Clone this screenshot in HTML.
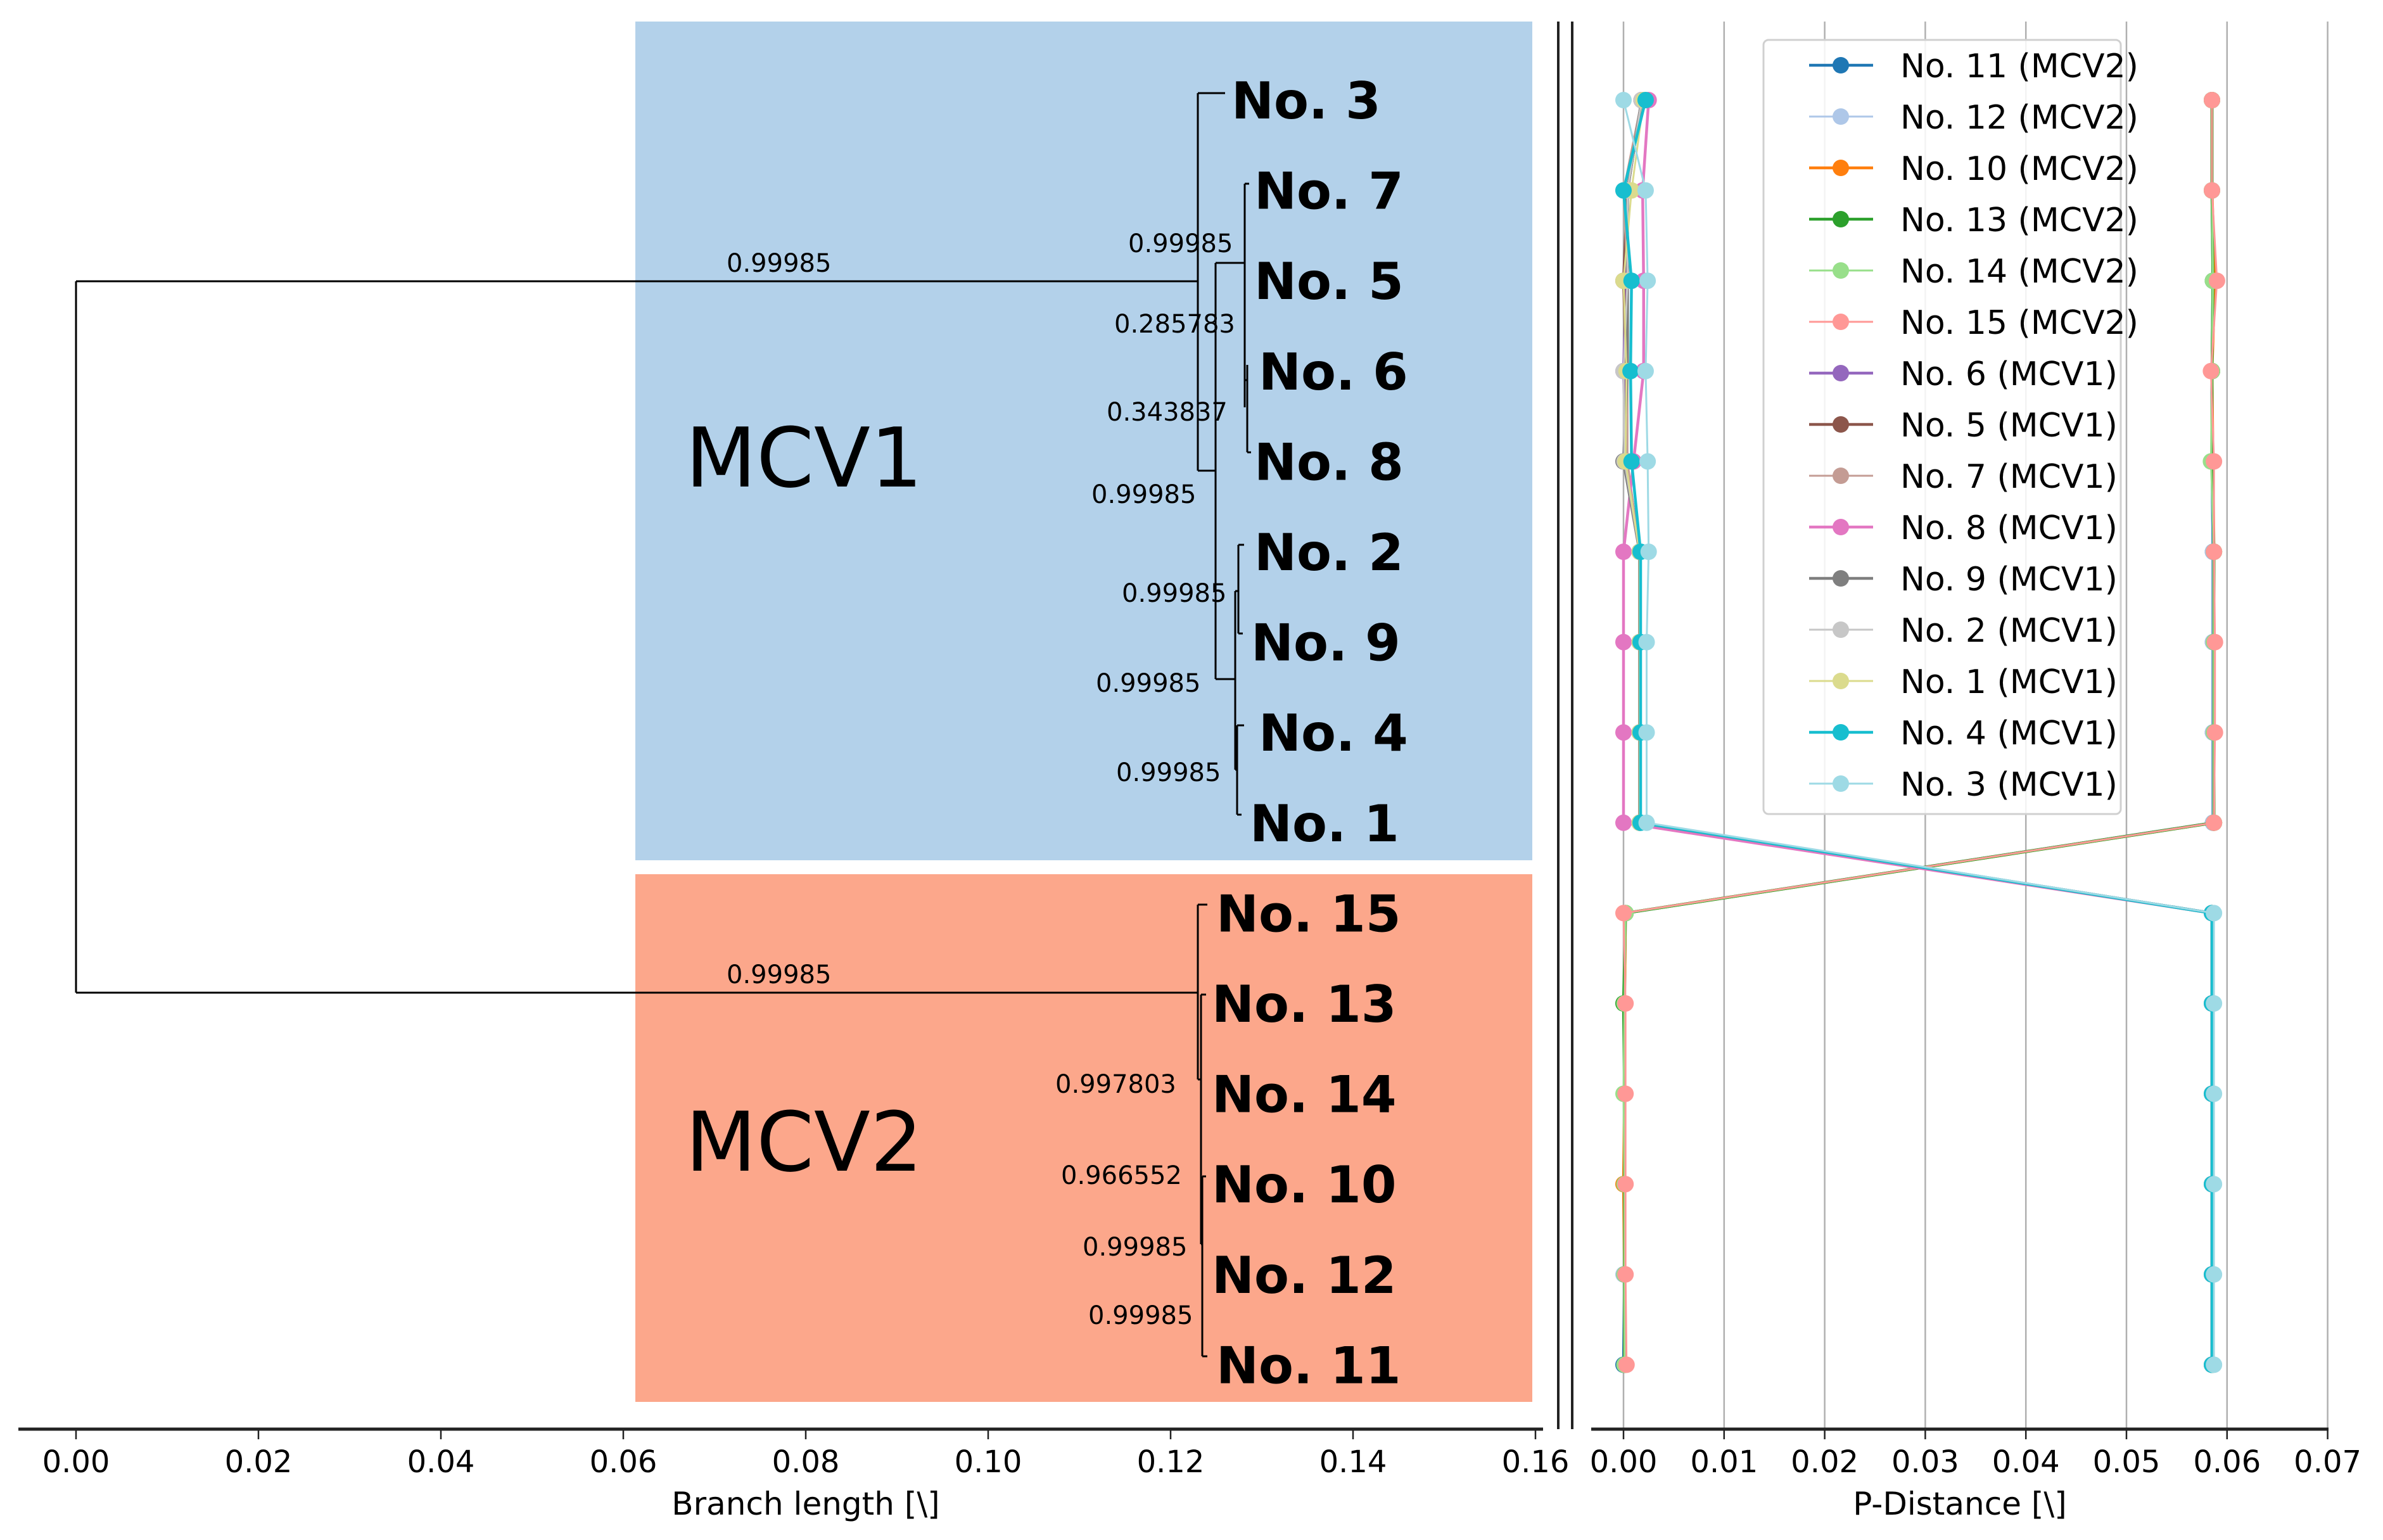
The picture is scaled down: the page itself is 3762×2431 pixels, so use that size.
<!DOCTYPE html>
<html><head><meta charset="utf-8">
<style>
html,body{margin:0;padding:0;background:#fff;}
svg{display:block;font-family:"DejaVu Sans","Liberation Sans",sans-serif;}
</style></head>
<body>
<svg id="chart" width="3762" height="2431" viewBox="0 0 3762 2431" xmlns="http://www.w3.org/2000/svg">
  <rect x="1003" y="34" width="1416" height="1324" fill="#b3d1ea"/>
  <rect x="1003" y="1380" width="1416" height="833" fill="#fca78b"/>
  <text x="1082" y="768" font-size="130">MCV1</text>
  <text x="1082" y="1848" font-size="130">MCV2</text>
  <g id="tree" stroke="#000" stroke-width="3" fill="none"></g>
  <g id="leaves"></g>
  <g id="supports"></g>
  <line x1="2460" y1="34" x2="2460" y2="2256" stroke="#222" stroke-width="4"/>
  <line x1="2482" y1="34" x2="2482" y2="2256" stroke="#222" stroke-width="4"/>
  <g id="leftaxis"></g>
  <g id="rightgrid"></g>
  <g id="series"></g>
  <g id="rightaxis"></g>
  <g id="legend"></g>
</svg>
<script>
const NS = "http://www.w3.org/2000/svg";
const rowLabels = ["No. 3","No. 7","No. 5","No. 6","No. 8","No. 2","No. 9","No. 4","No. 1","No. 15","No. 13","No. 14","No. 10","No. 12","No. 11"];
const leafLabelX = [1944,1980,1980,1987,1980,1980,1975,1987,1973,1920,1913,1913,1913,1913,1920];
const branchTicks = [0,0.02,0.04,0.06,0.08,0.10,0.12,0.14,0.16];
const branchTickLabels = ["0.00","0.02","0.04","0.06","0.08","0.10","0.12","0.14","0.16"];
const pdTicks = [0,0.01,0.02,0.03,0.04,0.05,0.06,0.07];
const pdTickLabels = ["0.00","0.01","0.02","0.03","0.04","0.05","0.06","0.07"];
const supportTexts = ["0.99985","0.99985","0.285783","0.343837","0.99985","0.99985","0.99985","0.99985","0.99985","0.997803","0.966552","0.99985","0.99985"];
const seriesNames = ["No. 11 (MCV2)","No. 12 (MCV2)","No. 10 (MCV2)","No. 13 (MCV2)","No. 14 (MCV2)","No. 15 (MCV2)","No. 6 (MCV1)","No. 5 (MCV1)","No. 7 (MCV1)","No. 8 (MCV1)","No. 9 (MCV1)","No. 2 (MCV1)","No. 1 (MCV1)","No. 4 (MCV1)","No. 3 (MCV1)"];
const seriesColors = ["#1f77b4","#aec7e8","#ff7f0e","#2ca02c","#98df8a","#ff9896","#9467bd","#8c564b","#c49c94","#e377c2","#7f7f7f","#c7c7c7","#dbdb8d","#17becf","#9edae5"];
const s11 = [0.0585,0.0585,0.0586,0.0585,0.0585,0.0586,0.0586,0.0586,0.0586,0.0002,0.0001,0.0001,0.0001,0.0001,0.0000];
const s12 = [0.0585,0.0585,0.0586,0.0585,0.0585,0.0586,0.0586,0.0586,0.0586,0.0002,0.0001,0.0001,0.0001,0.0000,0.0001];
const s10 = [0.0585,0.0585,0.0588,0.0585,0.0586,0.0587,0.0587,0.0587,0.0587,0.0002,0.0001,0.0001,0.0000,0.0001,0.0001];
const s13 = [0.0585,0.0585,0.0586,0.0585,0.0585,0.0587,0.0587,0.0587,0.0587,0.0002,0.0000,0.0001,0.0001,0.0001,0.0001];
const s14 = [0.0585,0.0585,0.0586,0.0585,0.0584,0.0587,0.0587,0.0587,0.0587,0.0002,0.0001,0.0000,0.0001,0.0001,0.0001];
const s15 = [0.0585,0.0585,0.0590,0.0584,0.0587,0.0587,0.0588,0.0588,0.0587,0.0000,0.0002,0.0002,0.0002,0.0002,0.0003];
const s6 = [0.0018,0.0004,0.0003,0.0000,0.0003,0.0016,0.0016,0.0016,0.0016,0.0585,0.0585,0.0585,0.0585,0.0585,0.0585];
const s5 = [0.0018,0.0004,0.0000,0.0003,0.0003,0.0016,0.0016,0.0016,0.0016,0.0585,0.0585,0.0585,0.0585,0.0585,0.0585];
const s7 = [0.0018,0.0000,0.0004,0.0004,0.0004,0.0016,0.0016,0.0016,0.0016,0.0585,0.0585,0.0585,0.0585,0.0585,0.0585];
const s8 = [0.0025,0.0019,0.0020,0.0020,0.0010,0.0000,0.0000,0.0000,0.0000,0.0585,0.0585,0.0585,0.0585,0.0585,0.0585];
const s9 = [0.0018,0.0004,0.0004,0.0004,0.0000,0.0016,0.0016,0.0016,0.0016,0.0585,0.0585,0.0585,0.0585,0.0585,0.0585];
const s2 = [0.0018,0.0004,0.0004,0.0000,0.0001,0.0016,0.0016,0.0016,0.0016,0.0585,0.0585,0.0585,0.0585,0.0585,0.0585];
const s1 = [0.0020,0.0008,0.0000,0.0003,0.0002,0.0016,0.0016,0.0016,0.0016,0.0586,0.0586,0.0586,0.0586,0.0586,0.0586];
const s4 = [0.0022,0.0000,0.0008,0.0007,0.0008,0.0017,0.0017,0.0017,0.0017,0.0585,0.0585,0.0585,0.0585,0.0585,0.0585];
const s3 = [0.0000,0.0022,0.0024,0.0022,0.0024,0.0025,0.0023,0.0023,0.0023,0.0587,0.0587,0.0587,0.0587,0.0587,0.0587];
const seriesValues = [s11,s12,s10,s13,s14,s15,s6,s5,s7,s8,s9,s2,s1,s4,s3];

// scales
const rowY = i => 158 + i * 142.6;
const bx = v => 120 + v * 14400;           // branch length -> px
const px = v => 2563 + v * 15880;          // p-distance -> px
const AX_Y = 2256;

function mk(tag, attrs, parent){const e=document.createElementNS(NS,tag);for(const k in attrs)e.setAttribute(k,attrs[k]);parent.appendChild(e);return e;}

// tree (node positions in pixel space, derived from figure)
const tree = document.getElementById('tree');
const segs = [
 [120,444,120,1567],[120,444,1891,444],[120,1567,1891,1567],
 [1891,147,1891,743],[1891,147,1934,147],[1891,743,1919,743],
 [1919,415,1919,1072],[1919,415,1965,415],[1919,1072,1950,1072],
 [1965,290,1965,643],[1965,290,1972,290],[1969,576,1969,714],[1965,600,1969,600],[1969,714,1975,714],
 [1950,933,1950,1215],[1950,933,1955,933],[1955,860,1955,1000],[1955,860,1964,860],[1955,1000,1962,1000],
 [1950,1215,1953,1215],[1953,1145,1953,1286],[1953,1145,1964,1145],[1953,1286,1960,1286],
 [1891,1428,1891,1704],[1891,1428,1906,1428],[1891,1704,1896,1704],
 [1896,1570,1896,1964],[1896,1570,1904,1570],[1896,1964,1898,1964],
 [1898,1857,1898,2141],[1898,1857,1904,1857],[1898,2141,1906,2141]
];
segs.forEach(s=>{const l=mk('line',{x1:s[0],y1:s[1],x2:s[2],y2:s[3]},tree);

});

// leaf labels
const leaves = document.getElementById('leaves');
rowLabels.forEach((t,i)=>{const e=mk('text',{x:leafLabelX[i],y:rowY(i)+29,'font-size':80,'font-weight':'bold'},leaves);e.textContent=t;

});

// support values
const supPos = [[1147,415],[1781,384],[1759,511],[1747,650],[1723,780],[1771,936],[1730,1078],[1762,1219],[1147,1538],[1666,1711],[1675,1855],[1709,1968],[1718,2076]];
const sup = document.getElementById('supports');
supportTexts.forEach((t,i)=>{const e=mk('text',{x:supPos[i][0],y:supPos[i][1]+14,'font-size':40},sup);e.textContent=t;

});

// left axis
const la = document.getElementById('leftaxis');
mk('line',{x1:29,y1:AX_Y,x2:2436,y2:AX_Y,stroke:'#222','stroke-width':5},la);
branchTicks.forEach((v,i)=>{
 const t=mk('line',{x1:bx(v),y1:AX_Y,x2:bx(v),y2:AX_Y+16,stroke:'#222','stroke-width':2.5},la);
 
 
 const e=mk('text',{x:bx(v),y:AX_Y+68,'font-size':48,'text-anchor':'middle'},la);e.textContent=branchTickLabels[i];
 
 
});
const lt=mk('text',{x:1272,y:2391,'font-size':50,'text-anchor':'middle'},la);lt.textContent="Branch length [\\]";



// right grid
const rg = document.getElementById('rightgrid');
pdTicks.forEach(v=>{const g=mk('line',{x1:px(v),y1:34,x2:px(v),y2:AX_Y,stroke:'#b0b0b0','stroke-width':2.5},rg);

});

// series
const sg = document.getElementById('series');
const lightIdx = new Set([1,4,5,8,11,12,14]);
seriesValues.forEach((vals,si)=>{
 const g=mk('g',{},sg);
 
 
 const pts=vals.map((v,i)=>px(v)+','+rowY(i)).join(' ');
 const pl=mk('polyline',{points:pts,fill:'none',stroke:seriesColors[si],'stroke-width':lightIdx.has(si)?3:4.5},g);
 
 
 vals.forEach((v,i)=>{const c=mk('circle',{cx:px(v),cy:rowY(i),r:13,fill:seriesColors[si]},g);
 
 });
});

// right axis
const ra = document.getElementById('rightaxis');
mk('line',{x1:2512,y1:AX_Y,x2:3676,y2:AX_Y,stroke:'#222','stroke-width':5},ra);
pdTicks.forEach((v,i)=>{
 const t=mk('line',{x1:px(v),y1:AX_Y,x2:px(v),y2:AX_Y+16,stroke:'#222','stroke-width':2.5},ra);
 
 
 const e=mk('text',{x:px(v),y:AX_Y+68,'font-size':48,'text-anchor':'middle'},ra);e.textContent=pdTickLabels[i];
 
 
});
const rt=mk('text',{x:3094,y:2391,'font-size':50,'text-anchor':'middle'},ra);rt.textContent="P-Distance [\\]";



// legend
const lg = document.getElementById('legend');
const box=mk('rect',{x:2784,y:63,width:564,height:1222,rx:8,fill:'#fff','fill-opacity':0.85,stroke:'#d0d0d0','stroke-width':3},lg);


seriesNames.forEach((n,i)=>{
 const y=103+i*81;
 const g=mk('g',{},lg);
 
 
 mk('line',{x1:2856,y1:y,x2:2957,y2:y,stroke:seriesColors[i],'stroke-width':lightIdx.has(i)?3:4.5},g);
 mk('circle',{cx:2906,cy:y,r:13,fill:seriesColors[i]},g);
 const e=mk('text',{x:3000,y:y+19,'font-size':52},g);e.textContent=n;
});
</script>
</body></html>
